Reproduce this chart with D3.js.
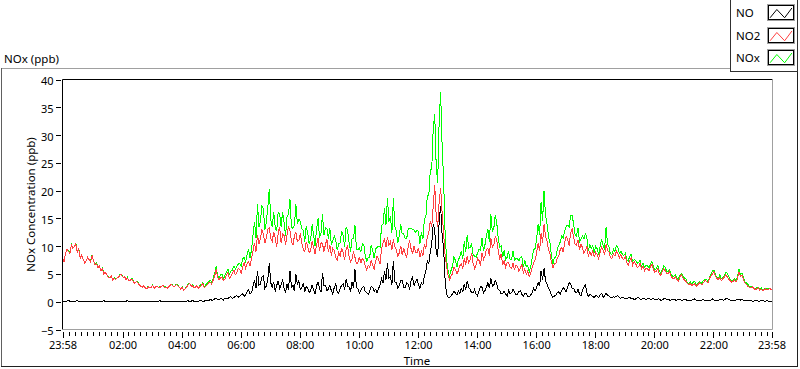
<!DOCTYPE html>
<html><head><meta charset="utf-8">
<script src="https://cdn.jsdelivr.net/npm/d3@7"></script>
<style>
body{margin:0;background:#fff;}
svg{display:block;font-family:"Noto Sans",sans-serif;}
</style>
</head><body>
<svg id="c" width="800" height="369"></svg>
<script>
// ---------- data (one value every 3 minutes, 23:58 -> 23:58 next day) ----------
const startTime = new Date(2000, 0, 1, 23, 58);
const stepMinutes = 3;

const no2Values = [
 7.8, 7.2, 8.6, 9.4, 9.1, 8.6,10.2, 9.6, 9.9,10.4,  8.9, 9.5, 7.8, 8.4, 7.6, 7.0, 7.3, 8.0, 7.6, 7.2,
 8.3, 7.4, 6.6, 6.9, 6.1, 6.4, 5.6, 5.9, 5.0, 5.3,  4.8, 4.4, 4.3, 4.6, 3.9, 4.2, 4.0, 4.3, 4.4, 4.9,
 4.8, 4.4, 4.5, 4.0, 4.2, 3.7, 3.9, 4.1, 3.6, 3.3,  3.7, 3.4, 3.0, 2.8, 2.6, 2.9, 2.5, 2.3, 2.7, 2.5,
 2.6, 2.9, 2.4, 2.7, 2.8, 2.5, 2.5, 2.8, 2.9, 2.6,  2.6, 2.4, 2.7, 3.0, 3.1, 2.7, 2.8, 3.1, 2.9, 2.6,
 2.3, 2.6, 2.0, 2.3, 2.6, 3.0, 3.3, 2.8, 2.9, 2.5,  2.6, 2.9, 2.4, 2.7, 2.9, 3.3, 2.5, 2.8, 3.0, 3.4,
 3.5, 3.2, 3.9, 4.6, 5.8, 4.4, 3.9, 4.3, 4.4, 3.8,  4.1, 4.8, 5.3, 4.2, 4.6, 5.1, 5.7, 4.9, 5.2, 6.0,
 5.8, 5.1, 6.3, 7.0, 6.0, 6.8, 7.2, 6.4, 7.9, 9.2, 10.6, 9.0,12.0,10.4,11.3,12.9,12.2,10.5,11.6,13.0,
13.3,11.4,10.8,12.6,11.6, 9.8,12.3,13.5,10.5,12.2, 11.9,10.3,12.0,13.6,12.8,10.9,10.2,11.8,12.6,10.8,
11.0,12.3,10.6, 9.4, 9.0,10.8,10.0, 8.8, 9.2,10.9,  9.8, 8.6,10.2,11.4, 9.1,10.6,10.5, 9.0,10.3,11.2,
 9.0,10.2, 8.3, 9.6, 9.2, 7.9, 7.5, 8.9, 8.2, 9.7,  8.8, 7.6, 9.4,10.1, 8.1, 7.2, 7.7, 8.9, 8.0, 6.9,
 7.0, 8.1, 6.9, 7.8, 7.5, 6.4, 5.7, 6.6, 6.2, 7.4,  6.6, 5.9, 7.3, 8.2, 7.6, 6.8, 9.5,10.6,11.2, 9.8,
11.6,10.2,10.8, 9.3,11.2, 9.9, 9.3, 8.2, 8.8,10.1,  8.4, 9.6, 8.7, 7.9, 9.9,11.0, 9.5, 8.6,10.0, 8.9,
 8.8, 9.7, 8.0, 9.1, 8.3,10.4, 9.6,11.8,12.4,14.6, 13.5,17.2,21.0,15.5,13.4,18.0,20.5,16.0,12.5, 8.5,
 6.3, 4.8, 3.9, 4.6, 5.0, 6.2, 5.8, 5.0, 5.6, 6.5,  6.8, 5.9, 7.8, 6.7, 8.2, 7.0, 7.6, 8.8, 6.9, 6.0,
 6.6, 7.8, 7.4, 6.5, 8.8, 7.6, 8.2, 9.4, 9.6, 8.3, 11.4, 9.8,10.2,11.8,11.0, 9.2, 7.8, 8.6, 6.6, 7.4,
 6.2, 7.0, 7.1, 6.2, 6.0, 7.0, 5.7, 6.6, 6.4, 5.5,  6.0, 6.8, 5.2, 5.9, 4.9, 5.6, 4.5, 5.1, 6.3, 7.0,
 7.6, 8.8,10.5, 9.2,12.4,10.6,13.9,11.8,10.9, 9.4,  8.6, 7.2, 6.0, 6.9, 6.8, 7.9, 8.3, 9.4, 9.8, 8.9,
10.6,11.8,11.2,10.1,12.4,13.2,11.6,10.4,10.2,11.1,  9.4,10.3, 9.8, 8.7, 9.2,10.0, 8.1, 9.0, 8.4, 9.2,
 8.0, 8.9, 8.5, 7.7, 8.9, 9.8, 9.3, 8.4,10.3, 9.2,  8.9, 7.9, 7.8, 8.6, 8.2, 9.1, 8.7, 7.9, 8.5, 7.8,
 7.6, 8.2, 7.1, 6.6, 7.4, 7.9, 6.6, 7.2, 6.9, 6.2,  6.3, 6.9, 5.9, 6.4, 5.6, 6.1, 6.0, 5.5, 6.3, 6.8,
 5.9, 5.3, 5.5, 6.0, 5.1, 4.7, 5.4, 5.9, 5.6, 5.1,  5.0, 5.5, 4.6, 4.2, 4.1, 4.5, 4.0, 3.7, 4.4, 4.8,
 4.3, 3.9, 3.7, 3.3, 3.0, 3.3, 2.9, 3.1, 3.2, 2.8,  3.0, 3.4, 3.3, 3.0, 3.5, 3.8, 3.7, 3.4, 4.2, 4.6,
 5.0, 5.4, 4.6, 4.2, 4.0, 4.4, 3.8, 4.1, 4.4, 4.8,  4.5, 4.1, 3.8, 3.5, 3.6, 3.9, 3.5, 4.2, 5.3, 4.6,
 4.8, 4.0, 3.4, 3.1, 2.8, 2.6, 2.5, 2.7, 2.4, 2.2,  2.3, 2.5, 2.1, 2.3, 2.0, 2.2, 2.3, 2.1, 2.2, 2.4, 2.1
];

const noValues = [
 0.1, 0.0, 0.0, 0.1, 0.2, 0.1, 0.1, 0.0, 0.0, 0.1,  0.2, 0.0, 0.1, 0.0, 0.0, 0.1, 0.1, 0.0, 0.0, 0.1,
 0.1, 0.0, 0.0, 0.1, 0.1, 0.0, 0.0, 0.1, 0.2, 0.0,  0.0, 0.1, 0.1, 0.0, 0.0, 0.1, 0.1, 0.0, 0.0, 0.1,
 0.1, 0.0, 0.0, 0.1, 0.2, 0.0, 0.0, 0.1, 0.1, 0.0,  0.0, 0.1, 0.1, 0.0, 0.1, 0.0, 0.0, 0.1, 0.1, 0.0,
 0.0, 0.1, 0.1, 0.0, 0.0, 0.1, 0.2, 0.0, 0.0, 0.1,  0.1, 0.0, 0.0, 0.1, 0.1, 0.0, 0.0, 0.1, 0.1, 0.0,
 0.0, 0.1, 0.1, 0.0, 0.1, 0.2, 0.0, 0.1, 0.2, 0.1,  0.1, 0.0, 0.0, 0.2, 0.2, 0.1, 0.1, 0.3, 0.3, 0.2,
 0.4, 0.3, 0.3, 0.5, 0.6, 0.4, 0.4, 0.6, 0.5, 0.3,  0.7, 0.5, 0.6, 0.8, 0.9, 0.6, 0.7, 1.0, 1.1, 0.8,
 1.0, 1.3, 1.4, 1.0, 1.2, 1.8, 2.2, 1.4, 1.6, 2.8,  3.8, 2.4, 5.6, 3.0, 3.2, 4.4, 4.6, 2.4, 2.8, 4.0,
 7.0, 3.4, 2.6, 3.6, 1.8, 2.9, 3.8, 2.4, 3.0, 4.0,  2.4, 1.6, 3.2, 2.2, 5.6, 2.6, 3.0, 1.9, 5.0, 3.2,
 3.8, 2.2, 2.6, 3.4, 1.8, 2.8, 2.4, 1.6, 2.0, 3.0,  2.2, 1.4, 2.9, 3.6, 2.4, 1.7, 5.2, 3.0, 3.0, 2.0,
 2.3, 3.0, 2.0, 1.4, 2.6, 3.2, 1.8, 1.5, 2.4, 3.0,  3.2, 2.2, 4.1, 2.8, 2.6, 1.8, 3.6, 2.4, 5.8, 2.6,
 2.3, 1.6, 2.0, 2.6, 2.8, 1.8, 1.6, 1.3, 1.9, 2.8,  2.6, 1.9, 2.2, 1.6, 2.4, 3.0, 4.2, 3.4, 5.6, 4.0,
 7.0, 4.2, 4.6, 3.0, 7.4, 3.6, 3.4, 2.4, 3.0, 3.8,  3.8, 2.6, 2.6, 3.4, 3.2, 2.2, 3.8, 4.4, 2.9, 3.6,
 4.1, 3.0, 2.4, 3.4, 3.0, 4.6, 5.6, 7.4, 6.8, 9.0, 10.5,14.0,12.8, 9.0, 8.0,14.5,17.2,12.0, 9.7, 4.0,
 1.4, 0.8, 0.7, 1.0, 1.4, 1.9, 1.6, 1.2, 2.0, 1.5,  2.4, 1.8, 3.2, 2.2, 3.8, 2.6, 2.2, 1.6, 1.6, 2.2,
 1.4, 1.0, 2.0, 2.8, 2.6, 1.6, 2.0, 2.6, 3.4, 2.4,  4.3, 2.8, 3.0, 3.8, 3.2, 2.2, 2.0, 1.4, 1.4, 1.9,
 1.4, 1.0, 2.0, 1.4, 1.6, 2.2, 1.8, 1.2, 1.4, 1.8,  2.0, 1.3, 1.0, 1.5, 1.4, 0.9, 0.9, 1.2, 1.6, 2.4,
 2.0, 2.6, 3.5, 2.8, 5.6, 4.0, 6.0, 3.8, 3.2, 2.4,  2.0, 1.2, 0.8, 1.0, 1.2, 1.6, 1.8, 1.4, 2.0, 2.6,
 2.2, 1.8, 2.6, 3.4, 3.2, 2.4, 2.4, 1.8, 1.6, 2.2,  1.4, 1.0, 2.0, 2.6, 3.0, 1.6, 1.0, 1.3, 1.2, 0.9,
 0.8, 1.1, 1.0, 0.7, 1.2, 1.5, 0.8, 1.0, 1.6, 1.1,  1.0, 0.7, 0.7, 0.9, 0.8, 1.0, 1.1, 0.8, 0.6, 0.8,
 0.7, 0.5, 0.5, 0.7, 0.8, 0.6, 0.6, 0.4, 0.5, 0.7,  0.8, 0.5, 0.4, 0.6, 0.6, 0.4, 0.5, 0.6, 0.4, 0.5,
 0.6, 0.4, 0.4, 0.5, 0.5, 0.3, 0.3, 0.5, 0.6, 0.4,  0.4, 0.3, 0.3, 0.4, 0.5, 0.3, 0.3, 0.4, 0.4, 0.3,
 0.3, 0.4, 0.4, 0.2, 0.2, 0.3, 0.3, 0.4, 0.5, 0.3,  0.3, 0.2, 0.2, 0.3, 0.4, 0.2, 0.3, 0.2, 0.2, 0.3,
 0.5, 0.3, 0.3, 0.2, 0.2, 0.4, 0.4, 0.3, 0.3, 0.5,  0.6, 0.4, 0.3, 0.2, 0.2, 0.3, 0.3, 0.4, 0.5, 0.3,
 0.4, 0.3, 0.2, 0.3, 0.3, 0.2, 0.2, 0.1, 0.1, 0.2,  0.2, 0.1, 0.1, 0.2, 0.2, 0.1, 0.1, 0.2, 0.1, 0.1, 0.1
];

const noxValues = [
 7.9, 7.2, 8.6, 9.5, 9.3, 8.7,10.3, 9.6, 9.9,10.5,  9.1, 9.5, 7.9, 8.4, 7.6, 7.1, 7.4, 8.0, 7.6, 7.3,
 8.4, 7.4, 6.6, 7.0, 6.2, 6.4, 5.6, 6.0, 5.2, 5.3,  4.8, 4.5, 4.4, 4.6, 3.9, 4.3, 4.1, 4.3, 4.4, 5.0,
 4.9, 4.4, 4.5, 4.1, 4.4, 3.7, 3.9, 4.2, 3.7, 3.3,  3.7, 3.5, 3.1, 2.8, 2.7, 2.9, 2.5, 2.4, 2.8, 2.5,
 2.6, 3.0, 2.5, 2.7, 2.8, 2.6, 2.7, 2.8, 2.9, 2.7,  2.7, 2.4, 2.7, 3.1, 3.2, 2.7, 2.8, 3.2, 3.0, 2.6,
 2.3, 2.7, 2.1, 2.3, 2.7, 3.2, 3.3, 2.9, 3.1, 2.6,  2.7, 2.9, 2.4, 2.9, 3.1, 3.4, 2.6, 3.1, 3.3, 3.6,
 3.9, 3.5, 4.2, 5.1, 6.4, 4.8, 4.3, 4.9, 4.9, 4.1,  4.8, 5.3, 5.9, 5.0, 5.5, 5.7, 6.4, 5.9, 6.3, 6.8,
 6.8, 6.4, 7.7, 8.0, 7.2, 8.6, 9.4, 7.8, 9.5,12.0, 14.4,11.4,17.6,13.4,14.5,17.3,16.8,12.9,14.4,17.0,
20.3,14.8,13.4,16.2,13.4,12.7,16.1,15.9,13.5,16.2, 14.3,11.9,15.2,15.8,18.4,13.5,13.2,13.7,17.6,14.0,
14.8,14.5,13.2,12.8,10.8,13.6,12.4,10.4,11.2,13.9, 12.0,10.0,13.1,15.0,11.5,12.3,15.7,12.0,13.3,13.2,
11.3,13.2,10.3,11.0,11.8,11.1, 9.3,10.4,10.6,12.7, 12.0, 9.8,13.5,12.9,10.7, 9.0,11.3,11.3,13.8, 9.5,
 9.3, 9.7, 8.9,10.4,10.3, 8.2, 7.3, 7.9, 8.1,10.2,  9.2, 7.8, 9.5, 9.8,10.0, 9.8,13.7,14.0,16.8,13.8,
18.6,14.4,15.4,12.3,18.6,13.5,12.7,10.6,11.8,13.9, 12.2,12.2,11.3,11.3,13.1,13.2,13.3,13.0,12.9,12.5,
12.9,12.7,10.4,12.5,11.3,15.0,15.2,19.2,19.2,23.6, 24.0,31.2,33.8,24.5,21.4,32.5,37.7,28.0,22.2,12.5,
 7.7, 5.6, 4.6, 5.6, 6.4, 8.1, 7.4, 6.2, 7.6, 8.0,  9.2, 7.7,11.0, 8.9,12.0, 9.6, 9.8,10.4, 8.5, 8.2,
 8.0, 8.8, 9.4, 9.3,11.4, 9.2,10.2,12.0,13.0,10.7, 15.7,12.6,13.2,15.6,14.2,11.4, 9.8,10.0, 8.0, 9.3,
 7.6, 8.0, 9.1, 7.6, 7.6, 9.2, 7.5, 7.8, 7.8, 7.3,  8.0, 8.1, 6.2, 7.4, 6.3, 6.5, 5.4, 6.3, 7.9, 9.4,
 9.6,11.4,14.0,12.0,18.0,14.6,19.9,15.6,14.1,11.8, 10.6, 8.4, 6.8, 7.9, 8.0, 9.5,10.1,10.8,11.8,11.5,
12.8,13.6,13.8,13.5,15.6,15.6,14.0,12.2,11.8,13.3, 10.8,11.3,11.8,11.3,12.2,11.6, 9.1,10.3, 9.6,10.1,
 8.8,10.0, 9.5, 8.4,10.1,11.3,10.1, 9.4,13.4,10.3,  9.9, 8.6, 8.5, 9.5, 9.0,10.1, 9.8, 8.7, 9.1, 8.6,
 8.3, 8.7, 7.6, 7.3, 8.2, 8.5, 7.2, 7.6, 7.4, 6.9,  7.1, 7.4, 6.3, 7.0, 6.2, 6.5, 6.5, 6.1, 6.7, 7.3,
 6.5, 5.7, 5.9, 6.5, 5.6, 5.0, 5.7, 6.4, 6.2, 5.5,  5.4, 5.8, 4.9, 4.6, 4.6, 4.8, 4.3, 4.1, 4.8, 5.1,
 4.6, 4.3, 4.1, 3.5, 3.2, 3.6, 3.2, 3.5, 3.7, 3.1,  3.3, 3.6, 3.5, 3.3, 3.9, 4.0, 4.0, 3.6, 4.4, 4.9,
 5.5, 5.7, 4.9, 4.4, 4.2, 4.8, 4.2, 4.4, 4.7, 5.3,  5.1, 4.5, 4.1, 3.7, 3.8, 4.2, 3.8, 4.6, 5.8, 4.9,
 5.2, 4.3, 3.6, 3.4, 3.1, 2.8, 2.7, 2.8, 2.5, 2.4,  2.5, 2.6, 2.2, 2.5, 2.2, 2.3, 2.4, 2.3, 2.3, 2.5, 2.2
];

const seriesNames  = ["NO", "NO2", "NOx"];
const seriesColors = ["#000000", "#ff4040", "#00ff00"];
const yTickValues  = [-5, 0, 5, 10, 15, 20, 25, 30, 35, 40];
const chartTitle   = "NOx (ppb)";
const yAxisTitle   = "NOx Concentration (ppb)";
const xAxisTitle   = "Time";

// ---------- setup ----------
const svg = d3.select("#c");
const times = no2Values.map((_, i) => d3.timeMinute.offset(startTime, i * stepMinutes));
const endTime = d3.timeMinute.offset(startTime, 24 * 60);

const L = 62.5, R = 771.5, T = 79.5, B = 329.5;
const x = d3.scaleTime().domain([startTime, endTime]).range([L, R]);
const y = d3.scaleLinear().domain([-5, 40]).range([B, T]);

// outer frame
svg.append("line").attr("x1", 1).attr("x2", 730).attr("y1", 68.5).attr("y2", 68.5).attr("stroke", "#a0a0a0");
svg.append("line").attr("x1", 1.5).attr("x2", 1.5).attr("y1", 68).attr("y2", 367).attr("stroke", "#606060");
svg.append("line").attr("x1", 1).attr("x2", 798).attr("y1", 366.5).attr("y2", 366.5).attr("stroke", "#202020");
svg.append("line").attr("x1", 797.5).attr("x2", 797.5).attr("y1", 71).attr("y2", 367).attr("stroke", "#202020");

// title
svg.append("text").attr("x", 4).attr("y", 63).attr("font-size", 11.5).attr("fill", "#000").text(chartTitle);

// clip
svg.append("clipPath").attr("id", "plotclip").append("rect")
  .attr("x", L - 0.5).attr("y", T - 0.5).attr("width", R - L + 1).attr("height", B - T + 1);

// plot lines (NOx under NO2 under NO)
const line = d3.line().x((d, i) => x(times[i])).y(d => y(d));
const order = [[noxValues, 2], [no2Values, 1], [noValues, 0]];
const gPlot = svg.append("g").attr("clip-path", "url(#plotclip)");
order.forEach(([vals, k]) => {
  gPlot.append("path").datum(vals).attr("d", line)
    .attr("fill", "none").attr("stroke", seriesColors[k]).attr("stroke-width", 1)
    .attr("shape-rendering", "crispEdges");
});

// plot frame
svg.append("line").attr("x1", L).attr("x2", R + 1).attr("y1", T).attr("y2", T).attr("stroke", "#000");
svg.append("line").attr("x1", L).attr("x2", L).attr("y1", T).attr("y2", B).attr("stroke", "#000");
svg.append("line").attr("x1", R + 1).attr("x2", R + 1).attr("y1", T).attr("y2", B).attr("stroke", "#a0a0a0");
svg.append("line").attr("x1", L).attr("x2", R + 1).attr("y1", B).attr("y2", B).attr("stroke", "#a0a0a0");

// x axis
const fmt = d3.timeFormat("%H:%M");
const inner2h = d3.timeHour.every(2).range(startTime, endTime)
  .filter(d => (d - startTime) > 10 * 60000 && (endTime - d) > 10 * 60000);
const majorTicks = [startTime, ...inner2h, endTime];
const minorTicks = d3.timeMinute.every(12).range(startTime, endTime)
  .filter(d => majorTicks.every(m => Math.abs(d - m) > 5 * 60000));

const gxMinor = svg.append("g").attr("transform", `translate(0,332)`)
  .call(d3.axisBottom(x).tickValues(minorTicks).tickSize(4).tickFormat(""));
const gxMajor = svg.append("g").attr("transform", `translate(0,332)`)
  .call(d3.axisBottom(x).tickValues(majorTicks).tickSize(6).tickPadding(3).tickFormat(fmt));
[gxMinor, gxMajor].forEach(g => {
  g.select(".domain").remove();
  g.selectAll("line").attr("stroke", "#000").attr("shape-rendering", "crispEdges");
});
gxMajor.selectAll("text").attr("font-size", 11).attr("font-family", "Noto Sans").attr("fill", "#000");

// y axis
const gy = svg.append("g").attr("transform", `translate(60.5,0)`)
  .call(d3.axisLeft(y).tickValues(yTickValues).tickSize(5).tickPadding(2));
gy.select(".domain").remove();
gy.selectAll("line").attr("stroke", "#000").attr("shape-rendering", "crispEdges");
gy.selectAll("text").attr("font-size", 11).attr("font-family", "Noto Sans").attr("fill", "#000").attr("dy", "0.45em");

// axis titles
svg.append("text").attr("transform", "translate(35,204.5) rotate(-90)")
  .attr("text-anchor", "middle").attr("font-size", 11.5).attr("fill", "#000").text(yAxisTitle);
svg.append("text").attr("x", (L + R) / 2).attr("y", 365)
  .attr("text-anchor", "middle").attr("font-size", 11.5).attr("fill", "#000").text(xAxisTitle);

// legend
const lg = svg.append("g");
lg.append("rect").attr("x", 730.5).attr("y", -1).attr("width", 67).attr("height", 72.5)
  .attr("fill", "#fff").attr("stroke", "#303030");
seriesNames.forEach((name, i) => {
  const top = 4 + Math.round(i * 22.5);
  lg.append("text").attr("x", 736).attr("y", top + 13).attr("font-size", 11.5).attr("fill", "#000").text(name);
  lg.append("rect").attr("x", 767.5).attr("y", top + 0.5).attr("width", 27).attr("height", 16)
    .attr("fill", "#fff").attr("stroke", "#a0a0a0").attr("shape-rendering", "crispEdges");
  lg.append("rect").attr("x", 768.5).attr("y", top + 1.5).attr("width", 25).attr("height", 14)
    .attr("fill", "none").attr("stroke", "#000").attr("shape-rendering", "crispEdges");
  const bx = 768, by = top + 1, bw = 26, bh = 15;
  const pts = [[0.08, 0.85], [0.34, 0.3], [0.64, 0.85], [0.92, 0.2]].map(([fx, fy]) => [bx + fx * bw, by + fy * bh]);
  lg.append("path").attr("d", d3.line()(pts)).attr("fill", "none")
    .attr("stroke", seriesColors[i]).attr("stroke-width", 1);
});
</script>
</body></html>
